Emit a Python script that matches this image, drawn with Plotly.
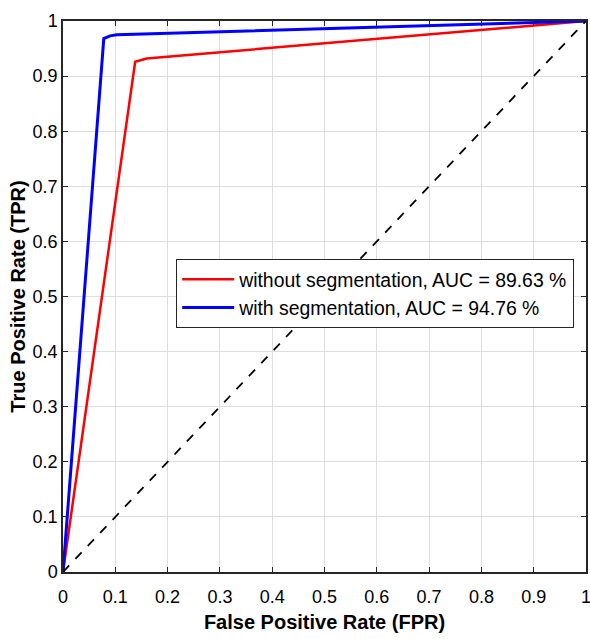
import plotly.graph_objects as go

fpr_without = [0.0, 0.138, 0.16, 1.0]
tpr_without = [0.0, 0.926, 0.932, 1.0]
fpr_with = [0.0, 0.078, 0.09, 0.103, 1.0]
tpr_with = [0.0, 0.968, 0.973, 0.975, 1.0]
chance = [0.0, 1.0]
labels = ["without segmentation, AUC = 89.63 %", "with segmentation, AUC = 94.76 %"]
ticks = [0, 0.1, 0.2, 0.3, 0.4, 0.5, 0.6, 0.7, 0.8, 0.9, 1]
tick_text = ["0", "0.1", "0.2", "0.3", "0.4", "0.5", "0.6", "0.7", "0.8", "0.9", "1"]

FONT = "Liberation Sans, Arial, sans-serif"

fig = go.Figure()
fig.add_trace(go.Scatter(x=fpr_without, y=tpr_without, mode="lines", name=labels[0],
                         line=dict(color="#ff0000", width=2.5)))
fig.add_trace(go.Scatter(x=fpr_with, y=tpr_with, mode="lines", name=labels[1],
                         line=dict(color="#0000ff", width=3)))
fig.add_trace(go.Scatter(x=chance, y=chance, mode="lines", showlegend=False,
                         line=dict(color="black", width=1.8, dash="dash")))

axis_common = dict(range=[0, 1], tickvals=ticks, ticktext=tick_text,
                   showgrid=True, gridcolor="#dedede", gridwidth=1,
                   zeroline=False, showline=True, linecolor="#262626", linewidth=1.5,
                   mirror="ticks", ticks="inside", ticklen=5, tickcolor="#262626",
                   automargin=False, ticklabeloverflow="allow",
                   tickfont=dict(family=FONT, size=18, color="black"))

fig.update_layout(
    width=590, height=639,
    margin=dict(l=63, r=4, t=21, b=67),
    paper_bgcolor="white", plot_bgcolor="white",
    xaxis=dict(**axis_common, ticklabelstandoff=8,
               title=dict(text="<b>False Positive Rate (FPR)</b>", standoff=9,
                          font=dict(family=FONT, size=20, color="black"))),
    yaxis=dict(**axis_common,
               title=dict(text="<b>True Positive Rate (TPR)</b>", standoff=2,
                          font=dict(family=FONT, size=20, color="black"))),
    legend=dict(x=0.216, y=0.568, xanchor="left", yanchor="top",
                bgcolor="white", bordercolor="#262626", borderwidth=1.2,
                font=dict(family=FONT, size=19.4, color="black"),
                tracegroupgap=0, itemwidth=52),
    showlegend=True,
)

fig.write_html("out.html", config={"displayModeBar": False},
               post_script="document.body.style.margin='0';document.body.style.overflow='hidden';")
